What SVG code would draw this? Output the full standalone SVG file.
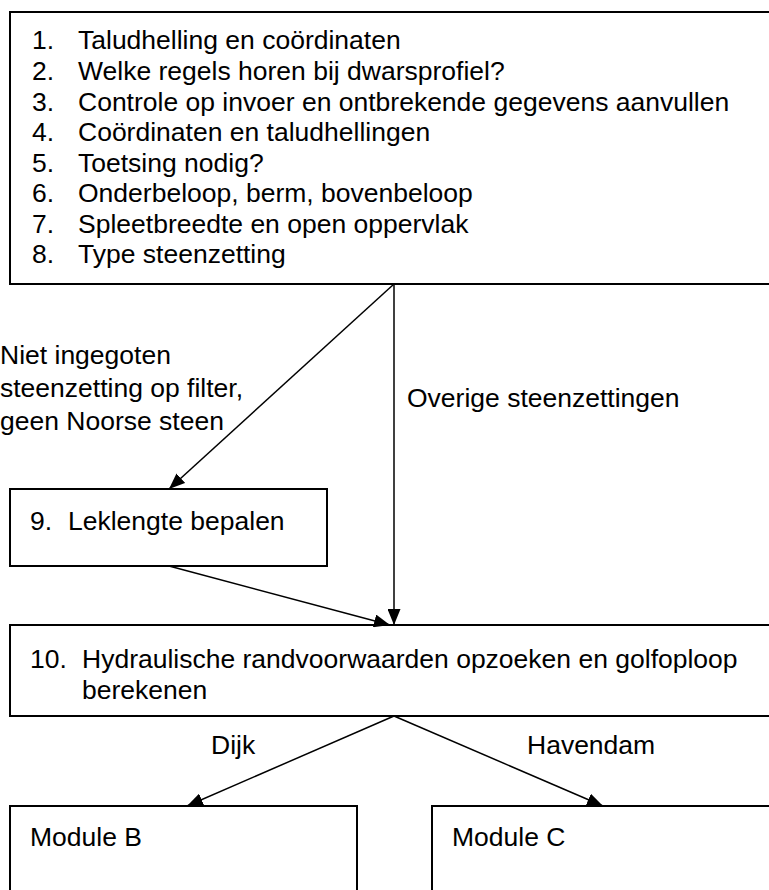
<svg xmlns="http://www.w3.org/2000/svg" width="769" height="890" viewBox="0 0 769 890">
<style>
.box{fill:#fff;stroke:#000;stroke-width:2}
.t{font-family:"Liberation Sans",Arial,sans-serif;font-size:26.5px;fill:#000}
.c{stroke:#000;stroke-width:1.5;fill:none}
</style>
<defs>
<marker id="ah" markerUnits="userSpaceOnUse" markerWidth="16" markerHeight="13" viewBox="0 0 16 13" refX="16" refY="6.5" orient="auto">
<path d="M0,0 L16,6.5 L0,13 Z" fill="#000"/>
</marker>
</defs>
<rect width="769" height="890" fill="#fff"/>
<g id="n1">
<rect class="box" x="10" y="12" width="780" height="272"/>
<text class="t" x="32" y="49">1.</text><text class="t" x="78" y="49">Taludhelling en coördinaten</text>
<text class="t" x="32" y="80">2.</text><text class="t" x="78" y="80">Welke regels horen bij dwarsprofiel?</text>
<text class="t" x="32" y="111">3.</text><text class="t" x="78" y="111">Controle op invoer en ontbrekende gegevens aanvullen</text>
<text class="t" x="32" y="141">4.</text><text class="t" x="78" y="141">Coördinaten en taludhellingen</text>
<text class="t" x="32" y="172">5.</text><text class="t" x="78" y="172">Toetsing nodig?</text>
<text class="t" x="32" y="202">6.</text><text class="t" x="78" y="202">Onderbeloop, berm, bovenbeloop</text>
<text class="t" x="32" y="233">7.</text><text class="t" x="78" y="233">Spleetbreedte en open oppervlak</text>
<text class="t" x="32" y="263">8.</text><text class="t" x="78" y="263">Type steenzetting</text>
</g>
<g id="n9">
<rect class="box" x="10" y="489" width="317" height="77"/>
<text class="t" x="30" y="530">9.</text><text class="t" x="68" y="530">Leklengte bepalen</text>
</g>
<g id="n10">
<rect class="box" x="10" y="625" width="780" height="91"/>
<text class="t" x="30" y="668">10.</text><text class="t" x="82" y="668">Hydraulische randvoorwaarden opzoeken en golfoploop</text>
<text class="t" x="82" y="699">berekenen</text>
</g>
<g id="nB">
<rect class="box" x="10" y="806" width="347" height="100"/>
<text class="t" x="30" y="846">Module B</text>
</g>
<g id="nC">
<rect class="box" x="432" y="806" width="360" height="100"/>
<text class="t" x="452" y="846">Module C</text>
</g>
<g id="connectors">
<line class="c" x1="394" y1="284" x2="169" y2="489" marker-end="url(#ah)"/>
<line class="c" x1="394" y1="284" x2="394" y2="625" marker-end="url(#ah)"/>
<line class="c" x1="169" y1="566" x2="390" y2="625" marker-end="url(#ah)"/>
<line class="c" x1="394" y1="716" x2="187" y2="806" marker-end="url(#ah)"/>
<line class="c" x1="394" y1="716" x2="603" y2="806" marker-end="url(#ah)"/>
<text class="t" x="0" y="364">Niet ingegoten</text>
<text class="t" x="0" y="397">steenzetting op filter,</text>
<text class="t" x="0" y="430">geen Noorse steen</text>
<text class="t" x="407" y="407">Overige steenzettingen</text>
<text class="t" x="211" y="754">Dijk</text>
<text class="t" x="527" y="754">Havendam</text>
</g>
</svg>
